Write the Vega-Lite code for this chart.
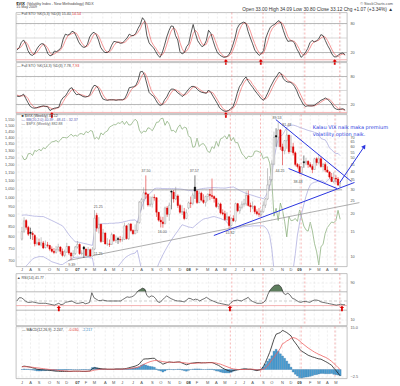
{
"$schema":"https://vega.github.io/schema/vega-lite/v6.json",
"background":"white",
"padding":{"left":4,"top":0.5,"right":0,"bottom":0},
"autosize":{"type":"pad"},
"config":{
 "view":{"stroke":"#9a9a9a","strokeWidth":0.6},
 "axis":{"labelFont":"Liberation Sans","labelFontSize":3.8,"labelColor":"#555555","ticks":false,"domain":false,"gridColor":"#d9d9d9","gridDash":[2,2],"gridWidth":0.5},
 "text":{"font":"Liberation Sans"}
},
"datasets":{
"vl":[{"d":"2008-05-20"},{"d":"2008-08-27"},{"d":"2009-01-07"},{"d":"2009-04-28"}],
"mo":[{"d":"2006-07-07","txt":"J","b":0},{"d":"2006-08-04","txt":"A","b":0},{"d":"2006-09-01","txt":"S","b":0},{"d":"2006-10-06","txt":"O","b":0},{"d":"2006-11-03","txt":"N","b":0},{"d":"2006-12-01","txt":"D","b":0},{"d":"2007-01-05","txt":"07","b":1},{"d":"2007-02-02","txt":"F","b":0},{"d":"2007-03-02","txt":"M","b":0},{"d":"2007-04-06","txt":"A","b":0},{"d":"2007-05-04","txt":"M","b":0},{"d":"2007-06-01","txt":"J","b":0},{"d":"2007-07-06","txt":"J","b":0},{"d":"2007-08-03","txt":"A","b":0},{"d":"2007-09-07","txt":"S","b":0},{"d":"2007-10-05","txt":"O","b":0},{"d":"2007-11-02","txt":"N","b":0},{"d":"2007-12-07","txt":"D","b":0},{"d":"2008-01-04","txt":"08","b":1},{"d":"2008-02-01","txt":"F","b":0},{"d":"2008-03-07","txt":"M","b":0},{"d":"2008-04-04","txt":"A","b":0},{"d":"2008-05-02","txt":"M","b":0},{"d":"2008-06-06","txt":"J","b":0},{"d":"2008-07-04","txt":"J","b":0},{"d":"2008-08-01","txt":"A","b":0},{"d":"2008-09-05","txt":"S","b":0},{"d":"2008-10-03","txt":"O","b":0},{"d":"2008-11-07","txt":"N","b":0},{"d":"2008-12-05","txt":"D","b":0},{"d":"2009-01-02","txt":"09","b":1},{"d":"2009-02-06","txt":"F","b":0},{"d":"2009-03-06","txt":"M","b":0},{"d":"2009-04-03","txt":"A","b":0},{"d":"2009-05-01","txt":"M","b":0}],
"w":[
{"d":"2006-07-07","o":13.2,"h":16.1,"l":12.9,"c":14.9,"t":"up","s":1265,"u":19.5,"b":8.0,"k1":25,"d1":28,"k2":38,"d2":40,"r":50,"m":1.0,"g":1.0,"hs":0},
{"d":"2006-07-14","o":15.0,"h":18.9,"l":14.6,"c":17.8,"t":"up","s":1236,"u":19.6,"b":8.2,"k1":30,"d1":29,"k2":37,"d2":39,"r":57,"m":1.2,"g":1.0,"hs":0.2},
{"d":"2006-07-21","o":17.9,"h":18.3,"l":15.4,"c":16.0,"t":"dn","s":1240,"u":19.6,"b":8.5,"k1":41,"d1":32,"k2":39,"d2":38,"r":57,"m":1.1,"g":1.0,"hs":0.1},
{"d":"2006-07-28","o":16.0,"h":16.4,"l":13.9,"c":14.3,"t":"dn","s":1278,"u":19.5,"b":8.8,"k1":46,"d1":39,"k2":42,"d2":39,"r":54,"m":1.0,"g":0.9,"hs":0.1},
{"d":"2006-08-04","o":14.8,"h":15.9,"l":13.2,"c":14.5,"t":"upk","s":1280,"u":19.4,"b":9.2,"k1":38,"d1":42,"k2":33,"d2":38,"r":49,"m":0.8,"g":0.9,"hs":-0.1},
{"d":"2006-08-11","o":14.5,"h":15.0,"l":13.0,"c":14.2,"t":"dn","s":1266,"u":19.3,"b":9.5,"k1":24,"d1":36,"k2":24,"d2":33,"r":47,"m":0.6,"g":0.8,"hs":-0.2},
{"d":"2006-08-18","o":14.0,"h":14.3,"l":11.7,"c":12.2,"t":"dn","s":1302,"u":19.2,"b":9.7,"k1":16,"d1":26,"k2":16,"d2":24,"r":47,"m":0.4,"g":0.7,"hs":-0.3},
{"d":"2006-08-25","o":12.3,"h":13.6,"l":11.9,"c":12.4,"t":"up","s":1295,"u":19.2,"b":9.8,"k1":14,"d1":18,"k2":13,"d2":18,"r":48,"m":0.1,"g":0.6,"hs":-0.5},
{"d":"2006-09-01","o":12.5,"h":13.3,"l":11.8,"c":12.0,"t":"dn","s":1311,"u":19.1,"b":9.9,"k1":18,"d1":16,"k2":12,"d2":14,"r":47,"m":0.0,"g":0.5,"hs":-0.5},
{"d":"2006-09-08","o":12.0,"h":13.6,"l":11.7,"c":12.4,"t":"up","s":1299,"u":19.1,"b":9.9,"k1":27,"d1":20,"k2":13,"d2":13,"r":46,"m":-0.1,"g":0.4,"hs":-0.5},
{"d":"2006-09-15","o":12.4,"h":12.8,"l":11.2,"c":11.4,"t":"dn","s":1322,"u":19.1,"b":9.9,"k1":34,"d1":26,"k2":15,"d2":13,"r":45,"m":-0.1,"g":0.3,"hs":-0.4},
{"d":"2006-09-22","o":11.5,"h":12.9,"l":11.3,"c":12.0,"t":"up","s":1315,"u":18.8,"b":9.7,"k1":38,"d1":33,"k2":16,"d2":15,"r":45,"m":-0.2,"g":0.2,"hs":-0.4},
{"d":"2006-09-29","o":12.0,"h":12.6,"l":11.5,"c":11.9,"t":"dn","s":1336,"u":18.5,"b":9.5,"k1":38,"d1":37,"k2":17,"d2":16,"r":45,"m":-0.2,"g":0.1,"hs":-0.3},
{"d":"2006-10-06","o":11.9,"h":12.0,"l":10.9,"c":11.2,"t":"dn","s":1350,"u":18.2,"b":9.3,"k1":30,"d1":35,"k2":16,"d2":16,"r":45,"m":-0.3,"g":0.0,"hs":-0.3},
{"d":"2006-10-13","o":11.2,"h":11.7,"l":10.6,"c":10.8,"t":"dn","s":1366,"u":17.9,"b":9.1,"k1":18,"d1":29,"k2":15,"d2":16,"r":44,"m":-0.4,"g":-0.1,"hs":-0.3},
{"d":"2006-10-20","o":10.8,"h":11.4,"l":10.3,"c":10.6,"t":"dn","s":1369,"u":17.6,"b":9.0,"k1":13,"d1":20,"k2":7,"d2":13,"r":43,"m":-0.5,"g":-0.1,"hs":-0.4},
{"d":"2006-10-27","o":10.6,"h":11.8,"l":10.4,"c":11.1,"t":"up","s":1377,"u":17.3,"b":8.9,"k1":15,"d1":15,"k2":10,"d2":11,"r":42,"m":-0.6,"g":-0.2,"hs":-0.4},
{"d":"2006-11-03","o":11.1,"h":12.2,"l":10.8,"c":11.6,"t":"up","s":1364,"u":17.0,"b":8.8,"k1":23,"d1":17,"k2":12,"d2":10,"r":41,"m":-0.6,"g":-0.3,"hs":-0.3},
{"d":"2006-11-10","o":11.6,"h":11.7,"l":10.3,"c":10.8,"t":"dn","s":1380,"u":16.7,"b":8.7,"k1":22,"d1":20,"k2":13,"d2":12,"r":43,"m":-0.7,"g":-0.4,"hs":-0.3},
{"d":"2006-11-17","o":10.8,"h":11.3,"l":9.9,"c":10.1,"t":"dn","s":1401,"u":16.4,"b":8.7,"k1":25,"d1":23,"k2":14,"d2":13,"r":45,"m":-0.7,"g":-0.4,"hs":-0.3},
{"d":"2006-11-24","o":10.1,"h":11.1,"l":9.8,"c":10.7,"t":"up","s":1400,"u":15.7,"b":8.9,"k1":30,"d1":26,"k2":28,"d2":18,"r":42,"m":-0.7,"g":-0.5,"hs":-0.2},
{"d":"2006-12-01","o":10.7,"h":12.4,"l":10.5,"c":11.7,"t":"up","s":1397,"u":14.9,"b":9.1,"k1":48,"d1":34,"k2":35,"d2":26,"r":43,"m":-0.7,"g":-0.5,"hs":-0.2},
{"d":"2006-12-08","o":11.7,"h":11.8,"l":10.2,"c":10.5,"t":"dn","s":1409,"u":14.2,"b":9.3,"k1":58,"d1":45,"k2":38,"d2":34,"r":47,"m":-0.7,"g":-0.6,"hs":-0.1},
{"d":"2006-12-15","o":10.5,"h":10.7,"l":9.39,"c":10.0,"t":"dn","s":1427,"u":13.6,"b":9.5,"k1":56,"d1":54,"k2":46,"d2":40,"r":48,"m":-0.7,"g":-0.6,"hs":-0.1},
{"d":"2006-12-22","o":10.0,"h":11.0,"l":9.7,"c":10.4,"t":"up","s":1410,"u":13.1,"b":9.7,"k1":58,"d1":57,"k2":54,"d2":46,"r":49,"m":-0.6,"g":-0.6,"hs":0},
{"d":"2006-12-29","o":10.4,"h":11.8,"l":10.2,"c":11.6,"t":"up","s":1418,"u":12.6,"b":9.8,"k1":64,"d1":59,"k2":56,"d2":52,"r":50,"m":-0.6,"g":-0.6,"hs":0},
{"d":"2007-01-05","o":11.6,"h":12.8,"l":11.3,"c":12.1,"t":"up","s":1410,"u":12.6,"b":9.8,"k1":62,"d1":61,"k2":47,"d2":52,"r":47,"m":-0.6,"g":-0.6,"hs":0},
{"d":"2007-01-12","o":12.1,"h":12.3,"l":10.2,"c":10.4,"t":"dn","s":1430,"u":12.5,"b":9.8,"k1":53,"d1":60,"k2":41,"d2":48,"r":45,"m":-0.6,"g":-0.6,"hs":0},
{"d":"2007-01-19","o":10.4,"h":11.0,"l":10.1,"c":10.5,"t":"up","s":1431,"u":12.4,"b":9.8,"k1":42,"d1":52,"k2":42,"d2":43,"r":45,"m":-0.7,"g":-0.6,"hs":-0.1},
{"d":"2007-01-26","o":11.6,"h":11.8,"l":9.7,"c":11.2,"t":"upk","s":1422,"u":12.3,"b":9.8,"k1":35,"d1":43,"k2":40,"d2":41,"r":46,"m":-0.7,"g":-0.6,"hs":-0.1},
{"d":"2007-02-02","o":11.2,"h":11.3,"l":10.0,"c":10.1,"t":"dn","s":1449,"u":12.2,"b":9.8,"k1":31,"d1":36,"k2":37,"d2":40,"r":47,"m":-0.7,"g":-0.6,"hs":-0.1},
{"d":"2007-02-09","o":10.1,"h":11.6,"l":10.0,"c":11.1,"t":"up","s":1438,"u":12.1,"b":9.8,"k1":31,"d1":32,"k2":36,"d2":38,"r":44,"m":-0.6,"g":-0.6,"hs":0},
{"d":"2007-02-16","o":11.1,"h":11.3,"l":9.9,"c":10.0,"t":"dn","s":1456,"u":12.0,"b":9.7,"k1":37,"d1":33,"k2":37,"d2":37,"r":45,"m":-0.5,"g":-0.6,"hs":0.1},
{"d":"2007-02-23","o":10.0,"h":11.6,"l":9.9,"c":11.2,"t":"up","s":1451,"u":11.9,"b":9.7,"k1":52,"d1":40,"k2":40,"d2":38,"r":47,"m":0.3,"g":-0.4,"hs":0.7},
{"d":"2007-03-02","o":11.2,"h":21.25,"l":11.0,"c":18.6,"t":"up","s":1388,"u":14.8,"b":8.0,"k1":59,"d1":49,"k2":53,"d2":43,"r":68,"m":0.6,"g":-0.2,"hs":0.8},
{"d":"2007-03-09","o":19.5,"h":20.3,"l":14.9,"c":15.8,"t":"dn","s":1402,"u":16.0,"b":null,"k1":62,"d1":58,"k2":61,"d2":51,"r":57,"m":0.5,"g":-0.1,"hs":0.6},
{"d":"2007-03-16","o":15.8,"h":18.9,"l":14.5,"c":16.8,"t":"up","s":1386,"u":16.8,"b":null,"k1":57,"d1":59,"k2":60,"d2":58,"r":54,"m":0.4,"g":0.0,"hs":0.4},
{"d":"2007-03-23","o":16.8,"h":17.0,"l":12.4,"c":12.7,"t":"dn","s":1437,"u":16.9,"b":null,"k1":46,"d1":55,"k2":54,"d2":58,"r":51,"m":0.3,"g":0.1,"hs":0.2},
{"d":"2007-03-30","o":12.7,"h":15.6,"l":12.6,"c":14.6,"t":"up","s":1421,"u":17.0,"b":null,"k1":31,"d1":45,"k2":41,"d2":52,"r":51,"m":0.2,"g":0.1,"hs":0.1},
{"d":"2007-04-06","o":14.6,"h":14.7,"l":12.1,"c":12.2,"t":"dn","s":1444,"u":17.0,"b":null,"k1":24,"d1":34,"k2":32,"d2":42,"r":52,"m":0.2,"g":0.1,"hs":0.1},
{"d":"2007-04-13","o":12.2,"h":13.4,"l":11.8,"c":12.2,"t":"up","s":1452,"u":17.0,"b":null,"k1":20,"d1":25,"k2":30,"d2":34,"r":51,"m":0.1,"g":0.1,"hs":0},
{"d":"2007-04-20","o":12.2,"h":13.1,"l":11.6,"c":12.1,"t":"dn","s":1484,"u":17.1,"b":null,"k1":20,"d1":21,"k2":29,"d2":30,"r":50,"m":0.1,"g":0.1,"hs":0},
{"d":"2007-04-27","o":12.1,"h":14.7,"l":12.0,"c":14.2,"t":"up","s":1495,"u":17.1,"b":null,"k1":24,"d1":21,"k2":30,"d2":30,"r":50,"m":0.1,"g":0.1,"hs":0},
{"d":"2007-05-04","o":14.2,"h":14.3,"l":12.6,"c":12.9,"t":"dn","s":1505,"u":17.1,"b":null,"k1":35,"d1":26,"k2":30,"d2":30,"r":50,"m":0.1,"g":0.1,"hs":0},
{"d":"2007-05-11","o":12.9,"h":14.0,"l":12.4,"c":13.0,"t":"up","s":1505,"u":17.2,"b":8.0,"k1":43,"d1":34,"k2":30,"d2":30,"r":50,"m":0.2,"g":0.1,"hs":0.1},
{"d":"2007-05-18","o":13.3,"h":13.7,"l":12.2,"c":13.1,"t":"upk","s":1522,"u":17.2,"b":8.4,"k1":42,"d1":40,"k2":29,"d2":30,"r":50,"m":0.2,"g":0.1,"hs":0.1},
{"d":"2007-05-25","o":13.1,"h":13.9,"l":12.5,"c":13.0,"t":"dn","s":1515,"u":17.3,"b":8.8,"k1":41,"d1":42,"k2":30,"d2":30,"r":50,"m":0.2,"g":0.1,"hs":0.1},
{"d":"2007-06-01","o":13.0,"h":13.7,"l":12.6,"c":13.1,"t":"up","s":1536,"u":17.4,"b":9.2,"k1":39,"d1":41,"k2":30,"d2":30,"r":50,"m":0.2,"g":0.1,"hs":0.1},
{"d":"2007-06-08","o":13.1,"h":17.3,"l":13.0,"c":16.4,"t":"up","s":1507,"u":17.6,"b":9.6,"k1":40,"d1":40,"k2":30,"d2":30,"r":53,"m":0.3,"g":0.2,"hs":0.1},
{"d":"2007-06-15","o":16.4,"h":16.6,"l":13.1,"c":13.3,"t":"dn","s":1533,"u":17.7,"b":9.9,"k1":45,"d1":41,"k2":33,"d2":31,"r":56,"m":0.4,"g":0.2,"hs":0.2},
{"d":"2007-06-22","o":13.3,"h":17.1,"l":13.0,"c":16.9,"t":"up","s":1503,"u":17.9,"b":10.1,"k1":50,"d1":45,"k2":43,"d2":35,"r":59,"m":0.6,"g":0.3,"hs":0.3},
{"d":"2007-06-29","o":16.9,"h":17.2,"l":14.9,"c":15.2,"t":"dn","s":1503,"u":18.0,"b":10.3,"k1":58,"d1":51,"k2":56,"d2":44,"r":58,"m":0.8,"g":0.4,"hs":0.4},
{"d":"2007-07-06","o":15.2,"h":15.5,"l":14.2,"c":14.4,"t":"dn","s":1530,"u":18.0,"b":10.4,"k1":55,"d1":54,"k2":57,"d2":52,"r":59,"m":1.0,"g":0.5,"hs":0.5},
{"d":"2007-07-13","o":14.4,"h":16.8,"l":14.3,"c":15.2,"t":"up","s":1552,"u":18.1,"b":10.5,"k1":55,"d1":56,"k2":58,"d2":57,"r":61,"m":1.2,"g":0.6,"hs":0.6},
{"d":"2007-07-20","o":15.2,"h":17.8,"l":14.6,"c":17.3,"t":"up","s":1534,"u":17.4,"b":11.0,"k1":60,"d1":57,"k2":61,"d2":59,"r":66,"m":1.5,"g":0.8,"hs":0.7},
{"d":"2007-07-27","o":17.3,"h":24.6,"l":17.0,"c":24.2,"t":"up","s":1459,"u":19.8,"b":9.4,"k1":70,"d1":62,"k2":72,"d2":64,"r":72,"m":2.0,"g":1.0,"hs":1.0},
{"d":"2007-08-03","o":24.2,"h":26.0,"l":21.1,"c":25.2,"t":"up","s":1433,"u":22.0,"b":8.0,"k1":78,"d1":69,"k2":90,"d2":74,"r":75,"m":3.0,"g":1.4,"hs":1.6},
{"d":"2007-08-10","o":25.2,"h":30.9,"l":21.5,"c":28.2,"t":"up","s":1453,"u":24.3,"b":null,"k1":92,"d1":80,"k2":91,"d2":84,"r":78,"m":3.7,"g":1.8,"hs":1.9},
{"d":"2007-08-17","o":28.2,"h":37.5,"l":25.6,"c":27.5,"t":"dn","s":1445,"u":26.0,"b":null,"k1":86,"d1":85,"k2":82,"d2":88,"r":76,"m":3.8,"g":2.2,"hs":1.6},
{"d":"2007-08-24","o":27.5,"h":27.9,"l":22.5,"c":23.1,"t":"dn","s":1479,"u":27.0,"b":null,"k1":55,"d1":78,"k2":64,"d2":79,"r":62,"m":3.8,"g":2.5,"hs":1.3},
{"d":"2007-08-31","o":23.1,"h":26.6,"l":22.4,"c":23.4,"t":"up","s":1474,"u":28.0,"b":null,"k1":40,"d1":60,"k2":46,"d2":64,"r":58,"m":3.9,"g":2.8,"hs":1.1},
{"d":"2007-09-07","o":23.4,"h":26.5,"l":22.2,"c":26.2,"t":"up","s":1454,"u":29.0,"b":null,"k1":34,"d1":43,"k2":41,"d2":50,"r":61,"m":4.0,"g":3.0,"hs":1.0},
{"d":"2007-09-14","o":26.2,"h":27.5,"l":24.8,"c":26.0,"t":"dn","s":1484,"u":30.2,"b":null,"k1":30,"d1":35,"k2":38,"d2":42,"r":60,"m":4.0,"g":3.2,"hs":0.8},
{"d":"2007-09-21","o":26.0,"h":26.2,"l":19.0,"c":20.5,"t":"dn","s":1525,"u":30.4,"b":8.0,"k1":22,"d1":29,"k2":30,"d2":36,"r":55,"m":3.4,"g":3.2,"hs":0.2},
{"d":"2007-09-28","o":20.5,"h":20.6,"l":17.6,"c":18.0,"t":"dn","s":1527,"u":30.4,"b":8.8,"k1":14,"d1":22,"k2":22,"d2":30,"r":48,"m":2.8,"g":3.1,"hs":-0.3},
{"d":"2007-10-05","o":18.0,"h":19.1,"l":16.0,"c":17.5,"t":"dn","s":1557,"u":30.3,"b":9.5,"k1":10,"d1":15,"k2":18,"d2":23,"r":47,"m":2.5,"g":3.0,"hs":-0.5},
{"d":"2007-10-12","o":17.5,"h":19.0,"l":15.9,"c":17.0,"t":"dn","s":1561,"u":30.2,"b":10.2,"k1":20,"d1":15,"k2":20,"d2":20,"r":52,"m":1.9,"g":2.8,"hs":-0.9},
{"d":"2007-10-19","o":17.0,"h":22.5,"l":16.8,"c":22.0,"t":"up","s":1500,"u":30.2,"b":10.9,"k1":35,"d1":22,"k2":30,"d2":23,"r":57,"m":2.2,"g":2.7,"hs":-0.5},
{"d":"2007-10-26","o":22.0,"h":22.7,"l":19.0,"c":19.8,"t":"dn","s":1535,"u":30.2,"b":11.6,"k1":52,"d1":36,"k2":36,"d2":29,"r":61,"m":2.5,"g":2.6,"hs":-0.1},
{"d":"2007-11-02","o":19.8,"h":24.0,"l":17.8,"c":23.0,"t":"up","s":1509,"u":30.2,"b":12.3,"k1":65,"d1":51,"k2":46,"d2":37,"r":58,"m":2.7,"g":2.6,"hs":0.1},
{"d":"2007-11-09","o":29.0,"h":29.3,"l":21.5,"c":28.5,"t":"upk","s":1453,"u":30.2,"b":13.0,"k1":75,"d1":64,"k2":53,"d2":45,"r":55,"m":2.6,"g":2.6,"hs":0},
{"d":"2007-11-16","o":28.5,"h":29.5,"l":24.0,"c":25.5,"t":"dn","s":1458,"u":30.2,"b":13.7,"k1":74,"d1":71,"k2":53,"d2":51,"r":53,"m":2.5,"g":2.6,"hs":-0.1},
{"d":"2007-11-23","o":25.5,"h":31.1,"l":25.0,"c":26.8,"t":"up","s":1440,"u":30.1,"b":14.4,"k1":55,"d1":68,"k2":50,"d2":52,"r":51,"m":2.6,"g":2.6,"hs":0},
{"d":"2007-11-30","o":26.8,"h":27.5,"l":22.0,"c":22.9,"t":"dn","s":1481,"u":30.1,"b":15.1,"k1":46,"d1":58,"k2":45,"d2":49,"r":50,"m":2.7,"g":2.6,"hs":0.1},
{"d":"2007-12-07","o":22.9,"h":23.5,"l":20.0,"c":20.5,"t":"dn","s":1504,"u":30.0,"b":15.9,"k1":22,"d1":41,"k2":42,"d2":46,"r":50,"m":2.7,"g":2.6,"hs":0.1},
{"d":"2007-12-14","o":20.5,"h":23.0,"l":19.6,"c":20.7,"t":"up","s":1467,"u":29.9,"b":16.7,"k1":17,"d1":28,"k2":37,"d2":41,"r":49,"m":2.3,"g":2.5,"hs":-0.2},
{"d":"2007-12-21","o":20.7,"h":22.0,"l":18.0,"c":18.5,"t":"dn","s":1484,"u":29.7,"b":16.5,"k1":20,"d1":20,"k2":41,"d2":40,"r":48,"m":2.0,"g":2.4,"hs":-0.4},
{"d":"2007-12-28","o":18.5,"h":21.5,"l":18.3,"c":20.3,"t":"up","s":1478,"u":29.5,"b":16.3,"k1":32,"d1":23,"k2":47,"d2":42,"r":52,"m":1.7,"g":2.3,"hs":-0.6},
{"d":"2008-01-04","o":22.0,"h":24.5,"l":21.5,"c":23.9,"t":"up","s":1411,"u":29.3,"b":16.1,"k1":38,"d1":30,"k2":53,"d2":47,"r":56,"m":1.9,"g":2.2,"hs":-0.3},
{"d":"2008-01-11","o":23.9,"h":26.5,"l":22.0,"c":23.7,"t":"dn","s":1401,"u":29.2,"b":16.0,"k1":60,"d1":43,"k2":58,"d2":53,"r":55,"m":2.2,"g":2.2,"hs":0},
{"d":"2008-01-18","o":23.7,"h":28.3,"l":23.0,"c":27.2,"t":"up","s":1325,"u":29.1,"b":15.9,"k1":78,"d1":59,"k2":59,"d2":57,"r":52,"m":2.3,"g":2.2,"hs":0.1},
{"d":"2008-01-25","o":31.0,"h":37.57,"l":25.5,"c":29.0,"t":"upk","s":1330,"u":29.4,"b":16.4,"k1":60,"d1":66,"k2":57,"d2":58,"r":54,"m":2.4,"g":2.2,"hs":0.2},
{"d":"2008-02-01","o":29.0,"h":29.5,"l":23.5,"c":24.0,"t":"dn","s":1395,"u":29.6,"b":16.9,"k1":45,"d1":61,"k2":52,"d2":56,"r":53,"m":2.5,"g":2.3,"hs":0.2},
{"d":"2008-02-08","o":24.0,"h":29.0,"l":23.8,"c":28.0,"t":"up","s":1331,"u":29.9,"b":17.4,"k1":38,"d1":48,"k2":48,"d2":52,"r":50,"m":2.5,"g":2.3,"hs":0.2},
{"d":"2008-02-15","o":28.0,"h":28.7,"l":24.5,"c":25.0,"t":"dn","s":1349,"u":30.1,"b":17.9,"k1":32,"d1":38,"k2":46,"d2":49,"r":53,"m":2.4,"g":2.3,"hs":0.1},
{"d":"2008-02-22","o":25.0,"h":27.5,"l":23.5,"c":24.1,"t":"dn","s":1353,"u":30.3,"b":18.3,"k1":35,"d1":35,"k2":45,"d2":46,"r":55,"m":2.4,"g":2.4,"hs":0},
{"d":"2008-02-29","o":24.1,"h":26.9,"l":22.5,"c":26.5,"t":"up","s":1331,"u":30.4,"b":18.5,"k1":45,"d1":37,"k2":44,"d2":45,"r":58,"m":2.4,"g":2.4,"hs":0},
{"d":"2008-03-07","o":26.5,"h":28.0,"l":24.5,"c":27.5,"t":"up","s":1294,"u":30.5,"b":18.6,"k1":66,"d1":49,"k2":51,"d2":47,"r":55,"m":2.5,"g":2.4,"hs":0.1},
{"d":"2008-03-14","o":27.5,"h":30.0,"l":25.0,"c":27.0,"t":"dn","s":1288,"u":30.6,"b":18.8,"k1":60,"d1":57,"k2":46,"d2":47,"r":52,"m":2.5,"g":2.4,"hs":0.1},
{"d":"2008-03-21","o":27.0,"h":35.6,"l":25.5,"c":26.5,"t":"dn","s":1330,"u":30.6,"b":19.0,"k1":45,"d1":57,"k2":38,"d2":45,"r":50,"m":2.5,"g":2.4,"hs":0.1},
{"d":"2008-03-28","o":26.5,"h":27.0,"l":24.0,"c":25.7,"t":"dn","s":1316,"u":30.7,"b":19.1,"k1":31,"d1":45,"k2":30,"d2":38,"r":48,"m":2.2,"g":2.4,"hs":-0.2},
{"d":"2008-04-04","o":25.7,"h":26.0,"l":22.0,"c":22.5,"t":"dn","s":1370,"u":30.6,"b":18.9,"k1":20,"d1":32,"k2":22,"d2":30,"r":46,"m":1.8,"g":2.3,"hs":-0.5},
{"d":"2008-04-11","o":22.5,"h":24.0,"l":21.5,"c":23.5,"t":"up","s":1332,"u":30.6,"b":18.7,"k1":15,"d1":22,"k2":13,"d2":22,"r":45,"m":1.5,"g":2.1,"hs":-0.6},
{"d":"2008-04-18","o":23.5,"h":24.0,"l":19.8,"c":20.3,"t":"dn","s":1390,"u":30.5,"b":18.5,"k1":12,"d1":16,"k2":9,"d2":15,"r":44,"m":1.0,"g":1.9,"hs":-0.9},
{"d":"2008-04-25","o":20.3,"h":21.5,"l":19.5,"c":20.0,"t":"dn","s":1398,"u":30.5,"b":18.2,"k1":10,"d1":12,"k2":6,"d2":9,"r":43,"m":0.5,"g":1.6,"hs":-1.1},
{"d":"2008-05-02","o":20.0,"h":21.0,"l":17.8,"c":18.2,"t":"dn","s":1414,"u":30.4,"b":18.0,"k1":11,"d1":11,"k2":5,"d2":7,"r":42,"m":0.1,"g":1.3,"hs":-1.2},
{"d":"2008-05-09","o":18.2,"h":20.5,"l":17.8,"c":19.0,"t":"up","s":1388,"u":30.6,"b":17.4,"k1":14,"d1":12,"k2":7,"d2":6,"r":41,"m":-0.2,"g":1.0,"hs":-1.2},
{"d":"2008-05-16","o":19.0,"h":19.3,"l":15.82,"c":16.5,"t":"dn","s":1426,"u":30.8,"b":16.7,"k1":22,"d1":16,"k2":11,"d2":8,"r":45,"m":-0.5,"g":0.7,"hs":-1.2},
{"d":"2008-05-23","o":16.5,"h":18.9,"l":16.3,"c":18.5,"t":"up","s":1375,"u":30.9,"b":16.0,"k1":35,"d1":24,"k2":14,"d2":11,"r":50,"m":-0.6,"g":0.4,"hs":-1.0},
{"d":"2008-05-30","o":18.5,"h":19.5,"l":17.5,"c":17.8,"t":"dn","s":1400,"u":31.0,"b":15.4,"k1":50,"d1":36,"k2":27,"d2":17,"r":51,"m":-0.4,"g":0.2,"hs":-0.6},
{"d":"2008-06-06","o":17.8,"h":24.0,"l":17.4,"c":23.6,"t":"up","s":1361,"u":30.4,"b":15.6,"k1":70,"d1":52,"k2":44,"d2":28,"r":52,"m":-0.2,"g":0.1,"hs":-0.3},
{"d":"2008-06-13","o":23.6,"h":23.9,"l":20.5,"c":21.0,"t":"dn","s":1360,"u":29.9,"b":15.8,"k1":78,"d1":66,"k2":58,"d2":43,"r":51,"m":-0.1,"g":0.0,"hs":-0.1},
{"d":"2008-06-20","o":21.0,"h":22.9,"l":20.0,"c":22.2,"t":"up","s":1318,"u":29.3,"b":15.9,"k1":81,"d1":76,"k2":65,"d2":56,"r":50,"m":0.0,"g":0.0,"hs":0},
{"d":"2008-06-27","o":22.2,"h":24.5,"l":21.5,"c":23.4,"t":"up","s":1278,"u":28.8,"b":16.1,"k1":83,"d1":81,"k2":74,"d2":66,"r":53,"m":0.1,"g":0.0,"hs":0.1},
{"d":"2008-07-04","o":23.4,"h":25.5,"l":22.5,"c":23.5,"t":"up","s":1263,"u":28.3,"b":16.3,"k1":80,"d1":81,"k2":79,"d2":73,"r":55,"m":0.2,"g":0.0,"hs":0.2},
{"d":"2008-07-11","o":23.5,"h":29.0,"l":22.8,"c":27.0,"t":"up","s":1240,"u":27.9,"b":16.3,"k1":63,"d1":75,"k2":70,"d2":74,"r":58,"m":0.2,"g":0.0,"hs":0.2},
{"d":"2008-07-18","o":27.0,"h":29.3,"l":22.5,"c":22.9,"t":"dn","s":1261,"u":27.6,"b":16.3,"k1":50,"d1":64,"k2":63,"d2":71,"r":52,"m":0.1,"g":0.1,"hs":0},
{"d":"2008-07-25","o":22.9,"h":24.0,"l":20.5,"c":22.4,"t":"dn","s":1257,"u":27.3,"b":16.3,"k1":38,"d1":50,"k2":57,"d2":63,"r":49,"m":0.1,"g":0.1,"hs":0},
{"d":"2008-08-01","o":22.4,"h":24.5,"l":21.5,"c":22.6,"t":"up","s":1261,"u":27.0,"b":16.4,"k1":25,"d1":38,"k2":50,"d2":57,"r":47,"m":0.0,"g":0.1,"hs":-0.1},
{"d":"2008-08-08","o":22.6,"h":23.0,"l":20.0,"c":20.7,"t":"dn","s":1296,"u":26.7,"b":16.4,"k1":19,"d1":27,"k2":44,"d2":50,"r":45,"m":-0.2,"g":0.0,"hs":-0.2},
{"d":"2008-08-15","o":20.7,"h":21.5,"l":19.5,"c":20.0,"t":"dn","s":1298,"u":26.4,"b":16.4,"k1":14,"d1":19,"k2":38,"d2":44,"r":45,"m":-0.4,"g":-0.1,"hs":-0.3},
{"d":"2008-08-22","o":20.0,"h":22.0,"l":19.0,"c":19.8,"t":"dn","s":1292,"u":26.1,"b":16.4,"k1":18,"d1":17,"k2":32,"d2":38,"r":45,"m":-0.2,"g":-0.1,"hs":-0.1},
{"d":"2008-08-29","o":19.8,"h":21.5,"l":19.0,"c":20.7,"t":"up","s":1283,"u":25.9,"b":16.4,"k1":24,"d1":19,"k2":29,"d2":33,"r":47,"m":0.0,"g":-0.1,"hs":0.1},
{"d":"2008-09-05","o":20.7,"h":24.5,"l":20.3,"c":23.0,"t":"up","s":1242,"u":25.6,"b":16.4,"k1":50,"d1":31,"k2":36,"d2":32,"r":52,"m":1.0,"g":0.1,"hs":0.9},
{"d":"2008-09-12","o":23.0,"h":26.0,"l":22.0,"c":25.5,"t":"up","s":1252,"u":26.5,"b":16.0,"k1":62,"d1":45,"k2":46,"d2":37,"r":65,"m":2.5,"g":0.6,"hs":1.9},
{"d":"2008-09-19","o":25.5,"h":42.2,"l":25.0,"c":32.1,"t":"up","s":1255,"u":28.5,"b":15.3,"k1":72,"d1":61,"k2":57,"d2":46,"r":74,"m":4.3,"g":1.3,"hs":3.0},
{"d":"2008-09-26","o":32.1,"h":37.0,"l":29.0,"c":35.0,"t":"up","s":1213,"u":31.6,"b":14.0,"k1":76,"d1":70,"k2":66,"d2":56,"r":80,"m":6.1,"g":2.3,"hs":3.8},
{"d":"2008-10-03","o":35.0,"h":48.0,"l":34.0,"c":45.1,"t":"up","s":1099,"u":37.2,"b":11.2,"k1":78,"d1":75,"k2":75,"d2":66,"r":84,"m":8.4,"g":3.5,"hs":4.9},
{"d":"2008-10-10","o":45.1,"h":76.9,"l":44.5,"c":69.9,"t":"up","s":899,"u":49.4,"b":8.0,"k1":83,"d1":79,"k2":81,"d2":74,"r":85,"m":10.8,"g":4.3,"hs":6.5},
{"d":"2008-10-17","o":72.0,"h":81.2,"l":60.0,"c":70.3,"t":"upk","s":940,"u":58.6,"b":null,"k1":86,"d1":82,"k2":89,"d2":82,"r":85,"m":12.6,"g":5.4,"hs":7.2},
{"d":"2008-10-24","o":70.3,"h":89.53,"l":60.0,"c":79.1,"t":"up","s":877,"u":68.6,"b":null,"k1":80,"d1":83,"k2":86,"d2":85,"r":80,"m":12.9,"g":6.4,"hs":6.5},
{"d":"2008-10-31","o":79.1,"h":80.0,"l":57.0,"c":59.9,"t":"dn","s":968,"u":71.0,"b":null,"k1":65,"d1":77,"k2":75,"d2":83,"r":67,"m":13.2,"g":7.6,"hs":5.6},
{"d":"2008-11-07","o":59.9,"h":63.0,"l":44.3,"c":56.1,"t":"dn","s":930,"u":73.0,"b":null,"k1":52,"d1":66,"k2":70,"d2":77,"r":64,"m":14.0,"g":9.2,"hs":4.8},
{"d":"2008-11-14","o":56.1,"h":67.0,"l":53.0,"c":66.3,"t":"up","s":873,"u":77.3,"b":null,"k1":43,"d1":53,"k2":68,"d2":71,"r":67,"m":13.6,"g":9.6,"hs":4.0},
{"d":"2008-11-21","o":66.3,"h":81.48,"l":58.0,"c":72.7,"t":"up","s":800,"u":82.7,"b":null,"k1":44,"d1":46,"k2":68,"d2":69,"r":63,"m":13.2,"g":10.2,"hs":3.0},
{"d":"2008-11-28","o":72.7,"h":73.0,"l":53.5,"c":55.3,"t":"dn","s":896,"u":84.0,"b":null,"k1":44,"d1":44,"k2":65,"d2":67,"r":56,"m":12.6,"g":10.6,"hs":2.0},
{"d":"2008-12-05","o":55.3,"h":72.0,"l":55.0,"c":59.9,"t":"up","s":876,"u":85.5,"b":null,"k1":40,"d1":43,"k2":59,"d2":64,"r":54,"m":12.0,"g":11.2,"hs":0.8},
{"d":"2008-12-12","o":59.9,"h":64.0,"l":52.0,"c":54.3,"t":"dn","s":879,"u":85.5,"b":8.0,"k1":28,"d1":37,"k2":50,"d2":58,"r":51,"m":10.5,"g":11.4,"hs":-0.9},
{"d":"2008-12-19","o":54.3,"h":55.5,"l":43.5,"c":44.9,"t":"dn","s":887,"u":84.8,"b":10.4,"k1":20,"d1":29,"k2":38,"d2":49,"r":48,"m":9.5,"g":11.2,"hs":-1.7},
{"d":"2008-12-26","o":44.9,"h":46.0,"l":42.0,"c":43.4,"t":"dn","s":873,"u":83.7,"b":14.1,"k1":10,"d1":19,"k2":29,"d2":39,"r":47,"m":8.5,"g":10.8,"hs":-2.3},
{"d":"2009-01-02","o":43.4,"h":45.0,"l":38.48,"c":39.2,"t":"dn","s":931,"u":82.4,"b":17.2,"k1":14,"d1":15,"k2":20,"d2":29,"r":49,"m":7.3,"g":10.2,"hs":-2.9},
{"d":"2009-01-09","o":39.2,"h":43.5,"l":38.5,"c":43.0,"t":"up","s":890,"u":81.4,"b":20.2,"k1":20,"d1":15,"k2":16,"d2":22,"r":49,"m":6.5,"g":9.5,"hs":-3.0},
{"d":"2009-01-16","o":47.0,"h":52.0,"l":42.5,"c":46.1,"t":"upk","s":850,"u":80.5,"b":23.3,"k1":28,"d1":21,"k2":17,"d2":18,"r":48,"m":6.1,"g":8.9,"hs":-2.8},
{"d":"2009-01-23","o":46.1,"h":50.0,"l":44.5,"c":47.3,"t":"up","s":832,"u":79.4,"b":26.6,"k1":40,"d1":29,"k2":17,"d2":17,"r":47,"m":5.6,"g":8.3,"hs":-2.7},
{"d":"2009-01-30","o":47.3,"h":48.0,"l":42.5,"c":44.8,"t":"dn","s":826,"u":78.4,"b":29.6,"k1":45,"d1":38,"k2":17,"d2":17,"r":50,"m":5.1,"g":7.7,"hs":-2.6},
{"d":"2009-02-06","o":44.8,"h":46.5,"l":42.5,"c":43.4,"t":"dn","s":869,"u":77.7,"b":32.1,"k1":42,"d1":42,"k2":18,"d2":17,"r":52,"m":4.8,"g":7.2,"hs":-2.4},
{"d":"2009-02-13","o":43.4,"h":45.0,"l":38.9,"c":41.3,"t":"dn","s":827,"u":77.0,"b":33.0,"k1":44,"d1":44,"k2":22,"d2":19,"r":52,"m":4.5,"g":6.7,"hs":-2.2},
{"d":"2009-02-20","o":41.3,"h":50.0,"l":41.0,"c":49.3,"t":"up","s":770,"u":76.0,"b":33.5,"k1":48,"d1":45,"k2":25,"d2":22,"r":51,"m":4.3,"g":6.2,"hs":-1.9},
{"d":"2009-02-27","o":49.3,"h":50.5,"l":44.0,"c":46.3,"t":"dn","s":735,"u":75.0,"b":33.8,"k1":57,"d1":50,"k2":29,"d2":25,"r":48,"m":4.0,"g":5.8,"hs":-1.8},
{"d":"2009-03-06","o":46.3,"h":53.0,"l":45.0,"c":49.3,"t":"up","s":683,"u":72.6,"b":34.2,"k1":55,"d1":53,"k2":31,"d2":28,"r":47,"m":3.8,"g":5.4,"hs":-1.6},
{"d":"2009-03-13","o":49.3,"h":51.0,"l":42.5,"c":43.4,"t":"dn","s":756,"u":68.8,"b":34.4,"k1":45,"d1":52,"k2":34,"d2":31,"r":46,"m":3.7,"g":5.1,"hs":-1.4},
{"d":"2009-03-20","o":43.4,"h":46.0,"l":40.0,"c":44.9,"t":"up","s":768,"u":67.7,"b":34.1,"k1":35,"d1":45,"k2":31,"d2":32,"r":45,"m":3.3,"g":4.7,"hs":-1.4},
{"d":"2009-03-27","o":44.9,"h":46.5,"l":39.5,"c":41.0,"t":"dn","s":816,"u":67.2,"b":33.2,"k1":27,"d1":36,"k2":27,"d2":31,"r":44,"m":2.9,"g":4.4,"hs":-1.5},
{"d":"2009-04-03","o":41.0,"h":43.5,"l":39.0,"c":39.7,"t":"dn","s":843,"u":63.5,"b":34.3,"k1":17,"d1":26,"k2":21,"d2":26,"r":43,"m":2.5,"g":4.0,"hs":-1.5},
{"d":"2009-04-10","o":39.7,"h":40.0,"l":35.6,"c":36.5,"t":"dn","s":857,"u":58.7,"b":35.5,"k1":11,"d1":18,"k2":13,"d2":20,"r":42,"m":2.0,"g":3.5,"hs":-1.5},
{"d":"2009-04-17","o":36.5,"h":39.0,"l":33.7,"c":33.9,"t":"dn","s":870,"u":57.2,"b":34.8,"k1":11,"d1":13,"k2":10,"d2":15,"r":41,"m":1.5,"g":2.9,"hs":-1.4},
{"d":"2009-04-24","o":33.9,"h":39.5,"l":33.0,"c":35.8,"t":"up","s":866,"u":55.0,"b":34.6,"k1":15,"d1":12,"k2":9,"d2":11,"r":42,"m":0.5,"g":2.2,"hs":-1.7},
{"d":"2009-05-01","o":35.8,"h":37.5,"l":33.5,"c":35.3,"t":"dn","s":877,"u":53.7,"b":34.1,"k1":18,"d1":15,"k2":10,"d2":10,"r":43,"m":-0.3,"g":1.5,"hs":-1.8},
{"d":"2009-05-08","o":35.3,"h":36.5,"l":31.5,"c":32.05,"t":"dn","s":929,"u":53.7,"b":32.9,"k1":19,"d1":17,"k2":11,"d2":9,"r":42,"m":-1.3,"g":0.7,"hs":-2.0},
{"d":"2009-05-15","o":33.0,"h":34.09,"l":30.8,"c":33.12,"t":"up","s":883,"u":51.8,"b":30.8,"k1":15.4,"d1":14.54,"k2":7.78,"d2":7.93,"r":41.77,"m":-2.25,"g":-0.03,"hs":-2.22}
]
},
"spacing":0,
"vconcat":[
{"spacing":1,"bounds":"flush","vconcat":[
{"width":331,"height":49,"layer":[
 {"data":{"name":"mo"},"mark":{"type":"rule","color":"#dcdcdc","strokeDash":[2,2],"strokeWidth":0.5},"encoding":{"x":{"field":"d","type":"temporal","title":null,"axis":null,"scale":{"type":"utc","domain":[1151971200000,1242864000000]}}}},
 {"data":{"values":[{"v":80},{"v":20}]},"mark":{"type":"rule","color":"#a8a8a8","strokeWidth":0.8},"encoding":{"y":{"field":"v","type":"quantitative","title":null,"scale":{"domain":[1.4,102.8],"nice":false,"zero":false}}}},
 {"data":{"values":[{"v":50}]},"mark":{"type":"rule","color":"#cfcfcf","strokeWidth":0.8},"encoding":{"y":{"field":"v","type":"quantitative","title":null,"scale":{"domain":[1.4,102.8],"nice":false,"zero":false}}}},
 {"data":{"values":[{"v":5}]},"mark":{"type":"rule","color":"#f2a0a0","strokeWidth":0.8},"encoding":{"y":{"field":"v","type":"quantitative","title":null,"scale":{"domain":[1.4,102.8],"nice":false,"zero":false}}}},
 {"data":{"name":"vl"},"mark":{"type":"rule","color":"#f08080","strokeDash":[2,2],"strokeWidth":0.6},"encoding":{"x":{"field":"d","type":"temporal","title":null,"axis":null,"scale":{"type":"utc","domain":[1151971200000,1242864000000]}}}},
 {"data":{"name":"w"},"mark":{"type":"line","color":"#f06a6a","strokeWidth":0.7},"encoding":{"x":{"field":"d","type":"temporal","title":null,"axis":null,"scale":{"type":"utc","domain":[1151971200000,1242864000000]}},"y":{"field":"d1","type":"quantitative","title":null,"scale":{"domain":[1.4,102.8],"nice":false,"zero":false},"axis":{"orient":"right","values":[20,50,80],"grid":true,"labelPadding":3}}}},
 {"data":{"name":"w"},"mark":{"type":"line","color":"#111111","strokeWidth":0.7},"encoding":{"x":{"field":"d","type":"temporal","title":null,"axis":null,"scale":{"type":"utc","domain":[1151971200000,1242864000000]}},"y":{"field":"k1","type":"quantitative","title":null,"scale":{"domain":[1.4,102.8],"nice":false,"zero":false}}}},
 {"data":{"values":[{"d":"2008-05-01","v":0.4},{"d":"2008-08-20","v":0.4},{"d":"2009-04-12","v":0.4}]},"mark":{"type":"point","shape":"M0,-1L0.8,-0.2L0.33,-0.2L0.33,1L-0.33,1L-0.33,-0.2L-0.8,-0.2Z","filled":true,"color":"#e00000","opacity":1,"size":30,"strokeWidth":0},"encoding":{"x":{"field":"d","type":"temporal","title":null,"axis":null,"scale":{"type":"utc","domain":[1151971200000,1242864000000]}},"y":{"field":"v","type":"quantitative","title":null,"scale":{"domain":[1.4,102.8],"nice":false,"zero":false}}}},
 {"data":{"values":[{"d":"2006-07-05","v":121.4,"txt":"$VIX"}]},"mark":{"type":"text","align":"left","baseline":"middle","fontSize":4,"fontWeight":"bold","color":"#111111"},"encoding":{"x":{"field":"d","type":"temporal","title":null,"axis":null,"scale":{"type":"utc","domain":[1151971200000,1242864000000]}},"y":{"field":"v","type":"quantitative","title":null,"scale":{"domain":[1.4,102.8],"nice":false,"zero":false}},"text":{"field":"txt"}}},
 {"data":{"values":[{"d":"2006-08-07","v":121.4,"txt":"(Volatility Index - New Methodology) INDX"},{"d":"2006-07-05","v":115.2,"txt":"15 May 2009"},{"d":"2006-07-07","v":100.1,"txt":"— Full STO %K(5,3) %D(3) 15.40,"}]},"mark":{"type":"text","align":"left","baseline":"middle","fontSize":3.6,"color":"#444444"},"encoding":{"x":{"field":"d","type":"temporal","title":null,"axis":null,"scale":{"type":"utc","domain":[1151971200000,1242864000000]}},"y":{"field":"v","type":"quantitative","title":null,"scale":{"domain":[1.4,102.8],"nice":false,"zero":false}},"text":{"field":"txt"}}},
 {"data":{"values":[{"d":"2006-12-29","v":100.1,"txt":"14.54"}]},"mark":{"type":"text","align":"left","baseline":"middle","fontSize":3.6,"color":"#e03030"},"encoding":{"x":{"field":"d","type":"temporal","title":null,"axis":null,"scale":{"type":"utc","domain":[1151971200000,1242864000000]}},"y":{"field":"v","type":"quantitative","title":null,"scale":{"domain":[1.4,102.8],"nice":false,"zero":false}},"text":{"field":"txt"}}},
 {"data":{"values":[{"d":"2009-10-14","v":119.5,"txt":"© StockCharts.com"}]},"mark":{"type":"text","align":"right","baseline":"middle","fontSize":3.8,"color":"#555555"},"encoding":{"x":{"field":"d","type":"temporal","title":null,"axis":null,"scale":{"type":"utc","domain":[1151971200000,1242864000000]}},"y":{"field":"v","type":"quantitative","title":null,"scale":{"domain":[1.4,102.8],"nice":false,"zero":false}},"text":{"field":"txt"}}},
 {"data":{"values":[{"d":"2009-10-14","v":107.8,"txt":"Open 33.00   High 34.09   Low 30.80   Close 33.12   Chg +1.07 (+3.34%) ▲"}]},"mark":{"type":"text","align":"right","baseline":"middle","fontSize":4.8,"color":"#333333"},"encoding":{"x":{"field":"d","type":"temporal","title":null,"axis":null,"scale":{"type":"utc","domain":[1151971200000,1242864000000]}},"y":{"field":"v","type":"quantitative","title":null,"scale":{"domain":[1.4,102.8],"nice":false,"zero":false}},"text":{"field":"txt"}}}
]},
{"width":331,"height":51,"layer":[
 {"data":{"name":"mo"},"mark":{"type":"rule","color":"#dcdcdc","strokeDash":[2,2],"strokeWidth":0.5},"encoding":{"x":{"field":"d","type":"temporal","title":null,"axis":null,"scale":{"type":"utc","domain":[1151971200000,1242864000000]}}}},
 {"data":{"values":[{"v":80},{"v":20}]},"mark":{"type":"rule","color":"#a8a8a8","strokeWidth":0.8},"encoding":{"y":{"field":"v","type":"quantitative","title":null,"scale":{"domain":[0.7,110],"nice":false,"zero":false}}}},
 {"data":{"values":[{"v":50}]},"mark":{"type":"rule","color":"#cfcfcf","strokeWidth":0.8},"encoding":{"y":{"field":"v","type":"quantitative","title":null,"scale":{"domain":[0.7,110],"nice":false,"zero":false}}}},
 {"data":{"values":[{"v":3}]},"mark":{"type":"rule","color":"#f2a0a0","strokeWidth":0.8},"encoding":{"y":{"field":"v","type":"quantitative","title":null,"scale":{"domain":[0.7,110],"nice":false,"zero":false}}}},
 {"data":{"name":"vl"},"mark":{"type":"rule","color":"#f08080","strokeDash":[2,2],"strokeWidth":0.6},"encoding":{"x":{"field":"d","type":"temporal","title":null,"axis":null,"scale":{"type":"utc","domain":[1151971200000,1242864000000]}}}},
 {"data":{"name":"w"},"mark":{"type":"line","color":"#f06a6a","strokeWidth":0.7},"encoding":{"x":{"field":"d","type":"temporal","title":null,"axis":null,"scale":{"type":"utc","domain":[1151971200000,1242864000000]}},"y":{"field":"d2","type":"quantitative","title":null,"scale":{"domain":[0.7,110],"nice":false,"zero":false},"axis":{"orient":"right","values":[20,50,80],"grid":true,"labelPadding":3}}}},
 {"data":{"name":"w"},"mark":{"type":"line","color":"#111111","strokeWidth":0.7},"encoding":{"x":{"field":"d","type":"temporal","title":null,"axis":null,"scale":{"type":"utc","domain":[1151971200000,1242864000000]}},"y":{"field":"k2","type":"quantitative","title":null,"scale":{"domain":[0.7,110],"nice":false,"zero":false}}}},
 {"data":{"values":[{"d":"2006-10-26","v":-2.5},{"d":"2008-05-01","v":-2.5}]},"mark":{"type":"point","shape":"M0,-1L0.8,-0.2L0.33,-0.2L0.33,1L-0.33,1L-0.33,-0.2L-0.8,-0.2Z","filled":true,"color":"#e00000","opacity":1,"size":30,"strokeWidth":0},"encoding":{"x":{"field":"d","type":"temporal","title":null,"axis":null,"scale":{"type":"utc","domain":[1151971200000,1242864000000]}},"y":{"field":"v","type":"quantitative","title":null,"scale":{"domain":[0.7,110],"nice":false,"zero":false}}}},
 {"data":{"values":[{"d":"2006-07-07","v":102.1,"txt":"— Full STO %K(14,3) %D(3) 7.78,"}]},"mark":{"type":"text","align":"left","baseline":"middle","fontSize":3.6,"color":"#444444"},"encoding":{"x":{"field":"d","type":"temporal","title":null,"axis":null,"scale":{"type":"utc","domain":[1151971200000,1242864000000]}},"y":{"field":"v","type":"quantitative","title":null,"scale":{"domain":[0.7,110],"nice":false,"zero":false}},"text":{"field":"txt"}}},
 {"data":{"values":[{"d":"2006-12-30","v":102.1,"txt":"7.93"}]},"mark":{"type":"text","align":"left","baseline":"middle","fontSize":3.6,"color":"#e03030"},"encoding":{"x":{"field":"d","type":"temporal","title":null,"axis":null,"scale":{"type":"utc","domain":[1151971200000,1242864000000]}},"y":{"field":"v","type":"quantitative","title":null,"scale":{"domain":[0.7,110],"nice":false,"zero":false}},"text":{"field":"txt"}}}
]},
{"width":331,"height":152,"resolve":{"scale":{"y":"independent"}},"layer":[
 {"data":{"name":"w"},"mark":{"type":"line","color":"#7fa870","strokeWidth":0.7},"encoding":{"x":{"field":"d","type":"temporal","title":null,"axis":null,"scale":{"type":"utc","domain":[1151971200000,1242864000000]}},"y":{"field":"s","type":"quantitative","title":null,"scale":{"type":"log","domain":[677,1594],"nice":false},"axis":{"orient":"left","values":[700,750,800,850,900,950,1000,1050,1100,1150,1200,1250,1300,1350,1400,1450,1500,1550],"grid":false,"labelPadding":2}}}},
 {"layer":[
  {"data":{"name":"mo"},"mark":{"type":"rule","color":"#dcdcdc","strokeDash":[2,2],"strokeWidth":0.5},"encoding":{"x":{"field":"d","type":"temporal","title":null,"axis":null,"scale":{"type":"utc","domain":[1151971200000,1242864000000]}}}},
  {"data":{"name":"vl"},"mark":{"type":"rule","color":"#f08080","strokeDash":[2,2],"strokeWidth":0.6},"encoding":{"x":{"field":"d","type":"temporal","title":null,"axis":null,"scale":{"type":"utc","domain":[1151971200000,1242864000000]}}}},
  {"data":{"name":"w"},"mark":{"type":"line","color":"#a6a6dc","strokeWidth":0.7,"clip":true},"encoding":{"x":{"field":"d","type":"temporal","title":null,"axis":null,"scale":{"type":"utc","domain":[1151971200000,1242864000000]}},"y":{"field":"u","type":"quantitative","title":null,"scale":{"type":"log","domain":[8.42,101.8],"nice":false}}}},
  {"data":{"name":"w"},"mark":{"type":"line","color":"#a6a6dc","strokeWidth":0.7,"clip":true,"invalid":"break-paths-filter-domains"},"encoding":{"x":{"field":"d","type":"temporal","title":null,"axis":null,"scale":{"type":"utc","domain":[1151971200000,1242864000000]}},"y":{"field":"b","type":"quantitative","title":null,"scale":{"type":"log","domain":[8.42,101.8],"nice":false}}}},
  {"data":{"values":[{"id":"a","d":"2006-12-06","v":9.29},{"id":"a","d":"2009-07-17","v":24.0},{"id":"b","d":"2007-01-04","v":29.6},{"id":"b","d":"2009-05-21","v":29.6}]},"mark":{"type":"line","color":"#999999","strokeWidth":0.8},"encoding":{"x":{"field":"d","type":"temporal","title":null,"axis":null,"scale":{"type":"utc","domain":[1151971200000,1242864000000]}},"y":{"field":"v","type":"quantitative","title":null,"scale":{"type":"log","domain":[8.42,101.8],"nice":false}},"detail":{"field":"id"}}},
  {"data":{"name":"w"},"mark":{"type":"rule","strokeWidth":0.5},"encoding":{"x":{"field":"d","type":"temporal","title":null,"axis":null,"scale":{"type":"utc","domain":[1151971200000,1242864000000]}},"y":{"field":"l","type":"quantitative","title":null,"scale":{"type":"log","domain":[8.42,101.8],"nice":false},"axis":{"orient":"right","values":[10,15,20,25,30,35,40,45,50,55,60,65,70],"grid":true,"labelPadding":3}},"y2":{"field":"h"},"color":{"field":"t","type":"nominal","scale":{"domain":["dn","upk","up"],"range":["#dd0000","#000000","#8c8c8c"]},"legend":null}}},
  {"data":{"name":"w"},"mark":{"type":"bar","size":1.5,"strokeWidth":0.4},"encoding":{"x":{"field":"d","type":"temporal","title":null,"axis":null,"scale":{"type":"utc","domain":[1151971200000,1242864000000]}},"y":{"field":"o","type":"quantitative","title":null,"scale":{"type":"log","domain":[8.42,101.8],"nice":false}},"y2":{"field":"c"},"fill":{"field":"t","type":"nominal","scale":{"domain":["dn","upk","up"],"range":["#dd0000","#000000","#ffffff"]},"legend":null},"stroke":{"field":"t","type":"nominal","scale":{"domain":["dn","upk","up"],"range":["#dd0000","#000000","#8c8c8c"]},"legend":null}}},
  {"data":{"values":[{"id":"a","d":"2008-03-27","v":14.0},{"id":"a","d":"2009-07-01","v":33.4},{"id":"b","d":"2008-10-16","v":93.7},{"id":"b","d":"2009-06-21","v":33.9},{"id":"c","d":"2008-11-27","v":42.0},{"id":"c","d":"2009-05-05","v":30.2},{"id":"d","d":"2009-05-14","v":33.4},{"id":"d","d":"2009-08-02","v":60.2}]},"mark":{"type":"line","color":"#2a35e0","strokeWidth":1},"encoding":{"x":{"field":"d","type":"temporal","title":null,"axis":null,"scale":{"type":"utc","domain":[1151971200000,1242864000000]}},"y":{"field":"v","type":"quantitative","title":null,"scale":{"type":"log","domain":[8.42,101.8],"nice":false}},"detail":{"field":"id"}}},
  {"data":{"values":[{"d":"2009-08-02","v":60.2}]},"mark":{"type":"point","shape":"triangle-up","filled":true,"color":"#2a35e0","opacity":1,"size":22,"angle":35},"encoding":{"x":{"field":"d","type":"temporal","title":null,"axis":null,"scale":{"type":"utc","domain":[1151971200000,1242864000000]}},"y":{"field":"v","type":"quantitative","title":null,"scale":{"type":"log","domain":[8.42,101.8],"nice":false}}}},
  {"data":{"values":[{"d":"2007-03-14","v":22.3,"txt":"21.25"},{"d":"2007-03-14","v":10.37,"txt":"11.25"},{"d":"2006-12-17","v":8.7,"txt":"9.39"},{"d":"2007-08-18","v":40.0,"txt":"37.50"},{"d":"2008-01-23","v":40.0,"txt":"37.57"},{"d":"2007-10-10","v":14.94,"txt":"16.00"},{"d":"2008-05-19","v":14.7,"txt":"15.82"},{"d":"2008-10-20","v":96.3,"txt":"89.53"},{"d":"2008-11-21","v":86.3,"txt":"81.48"},{"d":"2008-10-30","v":40.6,"txt":"44.25"},{"d":"2008-12-28","v":33.9,"txt":"38.48"}]},"mark":{"type":"text","align":"center","baseline":"middle","fontSize":3.6,"color":"#555555"},"encoding":{"x":{"field":"d","type":"temporal","title":null,"axis":null,"scale":{"type":"utc","domain":[1151971200000,1242864000000]}},"y":{"field":"v","type":"quantitative","title":null,"scale":{"type":"log","domain":[8.42,101.8],"nice":false}},"text":{"field":"txt"}}},
  {"data":{"values":[{"d":"2009-02-14","v":83.6,"txt":"Kalau VIX naik maka premium"},{"d":"2009-02-14","v":73.9,"txt":"volatility option naik."}]},"mark":{"type":"text","align":"left","baseline":"middle","fontSize":5,"font":"DejaVu Sans","color":"#2b3de0"},"encoding":{"x":{"field":"d","type":"temporal","title":null,"axis":null,"scale":{"type":"utc","domain":[1151971200000,1242864000000]}},"y":{"field":"v","type":"quantitative","title":null,"scale":{"type":"log","domain":[8.42,101.8],"nice":false}},"text":{"field":"txt"}}},
  {"data":{"values":[{"d":"2006-07-06","v":99.3,"txt":"■ $VIX (Weekly) 33.12"}]},"mark":{"type":"text","align":"left","baseline":"middle","fontSize":3.6,"color":"#333333"},"encoding":{"x":{"field":"d","type":"temporal","title":null,"axis":null,"scale":{"type":"utc","domain":[1151971200000,1242864000000]}},"y":{"field":"v","type":"quantitative","title":null,"scale":{"type":"log","domain":[8.42,101.8],"nice":false}},"text":{"field":"txt"}}},
  {"data":{"values":[{"d":"2006-07-06","v":93.0,"txt":"— BB(20,2.0) 40.39 - 48.41 - 32.37"}]},"mark":{"type":"text","align":"left","baseline":"middle","fontSize":3.6,"color":"#5a5ab0"},"encoding":{"x":{"field":"d","type":"temporal","title":null,"axis":null,"scale":{"type":"utc","domain":[1151971200000,1242864000000]}},"y":{"field":"v","type":"quantitative","title":null,"scale":{"type":"log","domain":[8.42,101.8],"nice":false}},"text":{"field":"txt"}}},
  {"data":{"values":[{"d":"2006-07-06","v":87.0,"txt":"— $SPX (Weekly) 882.88"}]},"mark":{"type":"text","align":"left","baseline":"middle","fontSize":3.6,"color":"#666666"},"encoding":{"x":{"field":"d","type":"temporal","title":null,"axis":null,"scale":{"type":"utc","domain":[1151971200000,1242864000000]}},"y":{"field":"v","type":"quantitative","title":null,"scale":{"type":"log","domain":[8.42,101.8],"nice":false}},"text":{"field":"txt"}}},
  {"data":{"name":"mo"},"transform":[{"filter":"datum.b==0"}],"mark":{"type":"text","align":"center","baseline":"middle","fontSize":4,"color":"#555555"},"encoding":{"x":{"field":"d","type":"temporal","title":null,"axis":null,"scale":{"type":"utc","domain":[1151971200000,1242864000000]}},"y":{"datum":7.98,"type":"quantitative","title":null,"scale":{"type":"log","domain":[8.42,101.8],"nice":false}},"text":{"field":"txt"}}},
  {"data":{"name":"mo"},"transform":[{"filter":"datum.b==1"}],"mark":{"type":"text","align":"center","baseline":"middle","fontSize":4,"fontWeight":"bold","color":"#333333"},"encoding":{"x":{"field":"d","type":"temporal","title":null,"axis":null,"scale":{"type":"utc","domain":[1151971200000,1242864000000]}},"y":{"datum":7.98,"type":"quantitative","title":null,"scale":{"type":"log","domain":[8.42,101.8],"nice":false}},"text":{"field":"txt"}}}
 ]}
]}
]},
{"spacing":1,"bounds":"flush","vconcat":[
{"width":331,"height":52,"layer":[
 {"data":{"name":"mo"},"mark":{"type":"rule","color":"#dcdcdc","strokeDash":[2,2],"strokeWidth":0.5},"encoding":{"x":{"field":"d","type":"temporal","title":null,"axis":null,"scale":{"type":"utc","domain":[1151971200000,1242864000000]}}}},
 {"data":{"name":"vl"},"mark":{"type":"rule","color":"#f08080","strokeDash":[2,2],"strokeWidth":0.6},"encoding":{"x":{"field":"d","type":"temporal","title":null,"axis":null,"scale":{"type":"utc","domain":[1151971200000,1242864000000]}}}},
 {"data":{"values":[{"g":"a","d":"2007-07-20","v":70},{"g":"a","d":"2007-07-27","v":72},{"g":"a","d":"2007-08-03","v":75},{"g":"a","d":"2007-08-10","v":78},{"g":"a","d":"2007-08-17","v":76},{"g":"a","d":"2007-08-24","v":70},{"g":"b","d":"2008-09-12","v":70},{"g":"b","d":"2008-09-19","v":74},{"g":"b","d":"2008-09-26","v":80},{"g":"b","d":"2008-10-03","v":84},{"g":"b","d":"2008-10-10","v":85},{"g":"b","d":"2008-10-17","v":85},{"g":"b","d":"2008-10-24","v":80},{"g":"b","d":"2008-10-31","v":70}]},"mark":{"type":"area","color":"#5d7d5d","opacity":1},"encoding":{"x":{"field":"d","type":"temporal","title":null,"axis":null,"scale":{"type":"utc","domain":[1151971200000,1242864000000]}},"y":{"field":"v","type":"quantitative","title":null,"scale":{"domain":[-3.3,109.8],"nice":false,"zero":false}},"y2":{"datum":70},"detail":{"field":"g"}}},
 {"data":{"values":[{"v":70},{"v":30}]},"mark":{"type":"rule","color":"#a8a8a8","strokeWidth":0.8},"encoding":{"y":{"field":"v","type":"quantitative","title":null,"scale":{"domain":[-3.3,109.8],"nice":false,"zero":false}}}},
 {"data":{"values":[{"v":50}]},"mark":{"type":"rule","color":"#b8b8b8","strokeWidth":0.7,"strokeDash":[3,2]},"encoding":{"y":{"field":"v","type":"quantitative","title":null,"scale":{"domain":[-3.3,109.8],"nice":false,"zero":false}}}},
 {"data":{"values":[{"v":40}]},"mark":{"type":"rule","color":"#f2a0a0","strokeWidth":0.8},"encoding":{"y":{"field":"v","type":"quantitative","title":null,"scale":{"domain":[-3.3,109.8],"nice":false,"zero":false}}}},
 {"data":{"name":"w"},"mark":{"type":"line","color":"#333333","strokeWidth":0.7},"encoding":{"x":{"field":"d","type":"temporal","title":null,"axis":null,"scale":{"type":"utc","domain":[1151971200000,1242864000000]}},"y":{"field":"r","type":"quantitative","title":null,"scale":{"domain":[-3.3,109.8],"nice":false,"zero":false},"axis":{"orient":"right","values":[10,30,50,70,90],"grid":true,"labelPadding":3}}}},
 {"data":{"values":[{"d":"2006-11-17","v":33.7},{"d":"2008-05-14","v":33.7},{"d":"2009-05-05","v":33.7}]},"mark":{"type":"point","shape":"M0,-1L0.8,-0.2L0.33,-0.2L0.33,1L-0.33,1L-0.33,-0.2L-0.8,-0.2Z","filled":true,"color":"#e00000","opacity":1,"size":30,"strokeWidth":0},"encoding":{"x":{"field":"d","type":"temporal","title":null,"axis":null,"scale":{"type":"utc","domain":[1151971200000,1242864000000]}},"y":{"field":"v","type":"quantitative","title":null,"scale":{"domain":[-3.3,109.8],"nice":false,"zero":false}}}},
 {"data":{"values":[{"d":"2006-07-07","v":101.1,"txt":"▲ RSI(14) 41.77"}]},"mark":{"type":"text","align":"left","baseline":"middle","fontSize":3.6,"color":"#444444"},"encoding":{"x":{"field":"d","type":"temporal","title":null,"axis":null,"scale":{"type":"utc","domain":[1151971200000,1242864000000]}},"y":{"field":"v","type":"quantitative","title":null,"scale":{"domain":[-3.3,109.8],"nice":false,"zero":false}},"text":{"field":"txt"}}}
]},
{"width":331,"height":52,"layer":[
 {"data":{"name":"mo"},"mark":{"type":"rule","color":"#dcdcdc","strokeDash":[2,2],"strokeWidth":0.5},"encoding":{"x":{"field":"d","type":"temporal","title":null,"axis":null,"scale":{"type":"utc","domain":[1151971200000,1242864000000]}}}},
 {"data":{"name":"vl"},"mark":{"type":"rule","color":"#f08080","strokeDash":[2,2],"strokeWidth":0.6},"encoding":{"x":{"field":"d","type":"temporal","title":null,"axis":null,"scale":{"type":"utc","domain":[1151971200000,1242864000000]}}}},
 {"data":{"name":"w"},"mark":{"type":"bar","size":1.9,"color":"#4a9fd4","stroke":"#25679a","strokeWidth":0.3},"encoding":{"x":{"field":"d","type":"temporal","title":null,"axis":null,"scale":{"type":"utc","domain":[1151971200000,1242864000000]}},"y":{"field":"hs","type":"quantitative","title":null,"scale":{"domain":[-3.21,15.36],"nice":false,"zero":false}},"y2":{"datum":0}}},
 {"data":{"name":"w"},"mark":{"type":"line","color":"#222222","strokeWidth":0.8},"encoding":{"x":{"field":"d","type":"temporal","title":null,"axis":null,"scale":{"type":"utc","domain":[1151971200000,1242864000000]}},"y":{"field":"m","type":"quantitative","title":null,"scale":{"domain":[-3.21,15.36],"nice":false,"zero":false},"axis":{"orient":"right","values":[-2.5,0,2.5,5,7.5,10,12.5,15],"format":".1f","grid":true,"labelPadding":3}}}},
 {"data":{"name":"w"},"mark":{"type":"line","color":"#ee6060","strokeWidth":0.8},"encoding":{"x":{"field":"d","type":"temporal","title":null,"axis":null,"scale":{"type":"utc","domain":[1151971200000,1242864000000]}},"y":{"field":"g","type":"quantitative","title":null,"scale":{"domain":[-3.21,15.36],"nice":false,"zero":false}}}},
 {"data":{"values":[{"d":"2006-07-07","v":14.04,"txt":"— MACD(12,26,9) -2.247,"}]},"mark":{"type":"text","align":"left","baseline":"middle","fontSize":3.6,"color":"#333333"},"encoding":{"x":{"field":"d","type":"temporal","title":null,"axis":null,"scale":{"type":"utc","domain":[1151971200000,1242864000000]}},"y":{"field":"v","type":"quantitative","title":null,"scale":{"domain":[-3.21,15.36],"nice":false,"zero":false}},"text":{"field":"txt"}}},
 {"data":{"values":[{"d":"2006-12-06","v":14.04,"txt":"-0.030,"}]},"mark":{"type":"text","align":"left","baseline":"middle","fontSize":3.6,"color":"#e03030"},"encoding":{"x":{"field":"d","type":"temporal","title":null,"axis":null,"scale":{"type":"utc","domain":[1151971200000,1242864000000]}},"y":{"field":"v","type":"quantitative","title":null,"scale":{"domain":[-3.21,15.36],"nice":false,"zero":false}},"text":{"field":"txt"}}},
 {"data":{"values":[{"d":"2007-01-20","v":14.04,"txt":"-2.217"}]},"mark":{"type":"text","align":"left","baseline":"middle","fontSize":3.6,"color":"#2f7fc0"},"encoding":{"x":{"field":"d","type":"temporal","title":null,"axis":null,"scale":{"type":"utc","domain":[1151971200000,1242864000000]}},"y":{"field":"v","type":"quantitative","title":null,"scale":{"domain":[-3.21,15.36],"nice":false,"zero":false}},"text":{"field":"txt"}}},
 {"data":{"name":"mo"},"transform":[{"filter":"datum.b==0"}],"mark":{"type":"text","align":"center","baseline":"middle","fontSize":4,"color":"#555555"},"encoding":{"x":{"field":"d","type":"temporal","title":null,"axis":null,"scale":{"type":"utc","domain":[1151971200000,1242864000000]}},"y":{"datum":-4.82,"type":"quantitative","title":null,"scale":{"domain":[-3.21,15.36],"nice":false,"zero":false}},"text":{"field":"txt"}}},
 {"data":{"name":"mo"},"transform":[{"filter":"datum.b==1"}],"mark":{"type":"text","align":"center","baseline":"middle","fontSize":4,"fontWeight":"bold","color":"#333333"},"encoding":{"x":{"field":"d","type":"temporal","title":null,"axis":null,"scale":{"type":"utc","domain":[1151971200000,1242864000000]}},"y":{"datum":-4.82,"type":"quantitative","title":null,"scale":{"domain":[-3.21,15.36],"nice":false,"zero":false}},"text":{"field":"txt"}}}
]}
]}
]
}
